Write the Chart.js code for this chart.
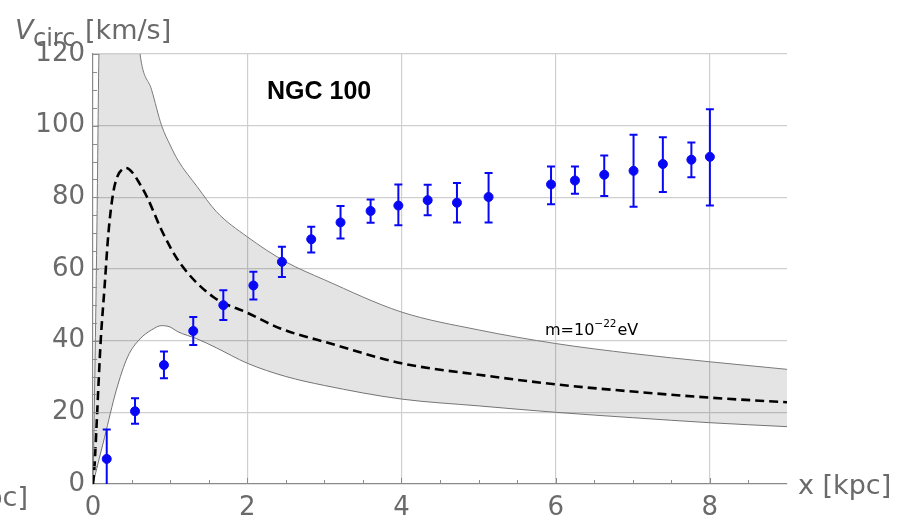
<!DOCTYPE html>
<html>
<head>
<meta charset="utf-8">
<script src="https://cdn.jsdelivr.net/npm/chart.js@4.4.0/dist/chart.umd.min.js"></script>
<style>
  html, body { margin: 0; padding: 0; background: #fff; }
  #wrap { width: 900px; height: 521px; }
</style>
</head>
<body>
<div id="wrap"><canvas id="chart" width="900" height="521"></canvas></div>
<script>
// measured rotation curve of NGC 100
const obsX  = [0.178, 0.545, 0.92, 1.30, 1.69, 2.08, 2.45, 2.83, 3.21, 3.60, 3.96, 4.34, 4.72, 5.13, 5.94, 6.25, 6.63, 7.01, 7.39, 7.76, 8.0];
const obsV  = [7.0, 20.3, 33.2, 42.7, 49.9, 55.4, 62.0, 68.3, 73.0, 76.2, 77.7, 79.2, 78.5, 80.1, 83.6, 84.7, 86.3, 87.4, 89.3, 90.5, 91.3];
const obsHi = [15.2, 23.9, 37.0, 46.6, 54.1, 59.2, 66.2, 71.8, 77.6, 79.4, 83.6, 83.5, 84.0, 86.8, 88.6, 88.6, 91.7, 97.5, 96.8, 95.3, 104.6];
const obsLo = [-1, 16.8, 29.5, 38.8, 45.8, 51.5, 57.8, 64.6, 68.5, 72.9, 72.2, 75.0, 73.0, 73.0, 78.1, 81.0, 80.4, 77.4, 81.5, 85.6, 77.7];

// model curve (dashed) for m = 1e-22 eV
const modelX = [0, 0.017, 0.05, 0.074, 0.1, 0.15, 0.2, 0.26, 0.32, 0.38, 0.43, 0.5, 0.6, 0.7, 0.91, 1.13, 1.56, 2.0, 2.43, 3.08, 4.0, 5.0, 6.0, 7.0, 8.0, 9.0];
const modelV = [0, 4, 18, 29, 40, 55, 70, 81, 86, 87.8, 88.2, 87.2, 84, 80.1, 69.9, 61.6, 52.2, 47.8, 43.4, 39.2, 33.7, 30.5, 27.8, 25.8, 24.1, 22.8];

// uncertainty band
const bandX     = [0, 0.02, 0.05, 0.08, 0.15, 0.3, 0.45, 0.61, 0.76, 0.89, 1.0, 1.1, 1.35, 1.6, 2.0, 2.5, 3.0, 4.0, 5.0, 6.0, 7.0, 8.0, 9.0];
const bandUpper = [0, 25, 70, 125, 170, 190, 160, 120, 110, 100, 94.6, 90.4, 83, 76, 69, 62, 57, 48, 43, 39.2, 36.4, 34.1, 32];
const bandLower = [0, 1.8, 4.4, 7, 13, 26, 35.5, 40.5, 43, 44.2, 43.8, 42.5, 40.5, 38, 33.7, 30, 27.5, 23.7, 21.8, 20.0, 18.5, 17.1, 16.0];

const xTicks = [0, 2, 4, 6, 8];
const yTicks = [0, 20, 40, 60, 80, 100, 120];

const GRAY_TXT = '#6a6a6a';
const BLUE = 'rgb(8,8,245)';

const pts = (xs, ys) => xs.map((x, i) => ({ x: x, y: ys[i] }));

const errorBars = {
  id: 'errorBars',
  afterDatasetsDraw(chart) {
    const { ctx, chartArea, scales: { x, y } } = chart;
    ctx.save();
    ctx.beginPath();
    ctx.rect(chartArea.left, chartArea.top, chartArea.right - chartArea.left, chartArea.bottom - chartArea.top);
    ctx.clip();
    ctx.strokeStyle = BLUE;
    ctx.lineWidth = 2;
    obsX.forEach((v, i) => {
      const px = x.getPixelForValue(v);
      const top = y.getPixelForValue(obsHi[i]);
      const bot = y.getPixelForValue(obsLo[i]);
      ctx.beginPath();
      ctx.moveTo(px, top); ctx.lineTo(px, bot);
      ctx.moveTo(px - 4, top); ctx.lineTo(px + 4, top);
      ctx.moveTo(px - 4, bot); ctx.lineTo(px + 4, bot);
      ctx.stroke();
    });
    ctx.restore();

    // minor ticks, pointing inward
    ctx.save();
    ctx.strokeStyle = '#8a8a8a';
    ctx.lineWidth = 1;
    const x0 = x.getPixelForValue(0), y0 = y.getPixelForValue(0);
    for (let v = 0.5; v < 9; v += 0.5) {
      const px = Math.round(x.getPixelForValue(v)) + 0.5;
      const len = v % 2 === 0 ? 6 : 4;
      ctx.beginPath(); ctx.moveTo(px, y0); ctx.lineTo(px, y0 - len); ctx.stroke();
    }
    for (let v = 5; v <= 120; v += 5) {
      const py = Math.round(y.getPixelForValue(v)) + 0.5;
      const len = v % 20 === 0 ? 6 : 4;
      ctx.beginPath(); ctx.moveTo(x0, py); ctx.lineTo(x0 + len, py); ctx.stroke();
    }
    ctx.restore();
  },
  afterDraw(chart) {
    const { ctx } = chart;
    ctx.save();
    ctx.textBaseline = 'alphabetic';
    ctx.textAlign = 'left';

    ctx.fillStyle = '#000';
    ctx.font = 'bold 25px "Liberation Sans", Arial, sans-serif';
    ctx.fillText('NGC 100', 267, 99);

    ctx.font = '16px "DejaVu Sans", sans-serif';
    ctx.fillText('m=10', 545, 335);
    let w = ctx.measureText('m=10').width;
    ctx.font = '10.5px "DejaVu Sans", sans-serif';
    ctx.fillText('\u221222', 545 + w, 327);
    w += ctx.measureText('\u221222').width;
    ctx.font = '16px "DejaVu Sans", sans-serif';
    ctx.fillText('eV', 545 + w + 1, 335);

    ctx.fillStyle = GRAY_TXT;
    ctx.font = 'oblique 27px "DejaVu Sans", sans-serif';
    ctx.fillText('V', 15, 39);
    ctx.font = '24px "DejaVu Sans", sans-serif';
    ctx.fillText('circ', 33, 46);
    ctx.font = '27px "DejaVu Sans", sans-serif';
    ctx.fillText('[km/s]', 85, 39);

    ctx.fillText('x [kpc]', 798, 494);
    ctx.textAlign = 'right';
    ctx.fillText('[kpc]', 28, 506);
    ctx.restore();
  }
};

const ctx = document.getElementById('chart').getContext('2d');
new Chart(ctx, {
  type: 'scatter',
  data: {
    datasets: [
      {
        label: 'data',
        data: pts(obsX, obsV),
        backgroundColor: BLUE,
        borderColor: BLUE,
        pointRadius: 4.5,
        pointHoverRadius: 4.5,
        order: 0
      },
      {
        label: 'model',
        data: pts(modelX, modelV),
        showLine: true,
        borderColor: '#000',
        borderWidth: 2.6,
        borderDash: [9, 5],
        pointRadius: 0,
        cubicInterpolationMode: 'monotone',
        fill: false,
        order: 1
      },
      {
        label: 'lower',
        data: pts(bandX, bandLower),
        showLine: true,
        borderColor: '#7a7a7a',
        borderWidth: 1,
        pointRadius: 0,
        cubicInterpolationMode: 'monotone',
        fill: false,
        order: 3
      },
      {
        label: 'upper',
        data: pts(bandX, bandUpper),
        showLine: true,
        borderColor: '#7a7a7a',
        borderWidth: 1,
        pointRadius: 0,
        cubicInterpolationMode: 'monotone',
        backgroundColor: 'rgba(0,0,0,0.105)',
        fill: '-1',
        order: 2
      }
    ]
  },
  options: {
    responsive: false,
    animation: false,
    events: [],
    layout: { padding: { left: 0, right: 113, top: 54, bottom: 0 } },
    plugins: { legend: { display: false }, tooltip: { enabled: false } },
    scales: {
      x: {
        type: 'linear',
        min: 0, max: 9,
        afterFit: s => { s.height = 37; },
        afterBuildTicks: s => { s.ticks = xTicks.map(v => ({ value: v })); },
        ticks: {
          padding: 9,
          color: GRAY_TXT,
          font: { family: 'DejaVu Sans', size: 26 }
        },
        grid: {
          drawTicks: false,
          color: c => (c.tick && c.tick.value === 0 ? 'rgba(0,0,0,0)' : '#cfcfcf'),
          lineWidth: 1.2
        },
        border: { color: '#8a8a8a', width: 1.2 }
      },
      y: {
        type: 'linear',
        min: 0, max: 120,
        afterFit: s => { s.width = 93; },
        afterBuildTicks: s => { s.ticks = yTicks.map(v => ({ value: v })); },
        ticks: {
          padding: 8,
          color: GRAY_TXT,
          font: { family: 'DejaVu Sans', size: 26 }
        },
        grid: {
          drawTicks: false,
          color: c => (c.tick && c.tick.value === 0 ? 'rgba(0,0,0,0)' : '#cfcfcf'),
          lineWidth: 1.2
        },
        border: { color: '#8a8a8a', width: 1.2 }
      }
    }
  },
  plugins: [errorBars]
});
</script>
</body>
</html>
